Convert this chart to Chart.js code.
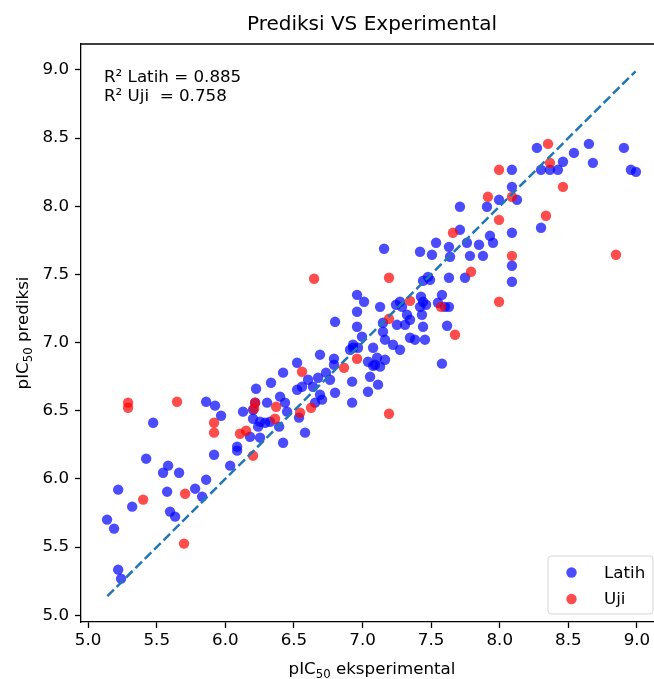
<!DOCTYPE html>
<html><head><meta charset="utf-8">
<script src="https://cdn.jsdelivr.net/npm/chart.js@4.4.1/dist/chart.umd.min.js"></script>
<style>html,body{margin:0;padding:0;background:#fff;overflow:hidden;}#wrap{width:700px;height:679px;}</style>
</head><body><div id="wrap"><canvas id="c" width="700" height="679"></canvas></div>
<script>
const latihX = [5.474,5.423,5.583,5.546,5.663,5.219,5.321,5.576,5.780,5.831,
5.597,5.634,5.138,5.189,5.219,5.240,5.918,5.860,5.860,5.925,
5.969,6.035,6.086,6.086,6.180,6.253,6.239,6.202,6.253,6.290,
6.326,6.129,6.202,6.217,6.304,6.224,6.333,6.421,6.523,6.690,
6.399,6.435,6.450,6.392,6.421,6.537,6.581,6.654,6.559,6.523,
6.603,6.639,6.676,6.734,6.763,6.690,6.705,6.792,6.792,6.800,
6.924,6.924,6.931,6.967,6.909,6.931,6.996,6.960,6.800,6.960,
7.011,6.960,7.128,7.040,7.077,7.106,7.077,7.055,7.113,7.040,
7.091,7.128,7.164,7.149,7.251,7.149,7.164,7.222,7.273,7.346,
7.382,7.455,7.324,7.346,7.310,7.273,7.288,7.244,7.426,7.463,
7.433,7.441,7.616,7.579,7.579,7.550,7.601,7.630,7.441,7.419,
7.477,7.441,7.492,7.630,7.747,7.506,7.638,7.783,7.878,7.419,
7.536,7.630,7.761,7.849,7.929,7.951,7.710,7.710,7.907,7.995,
8.126,8.089,8.089,8.089,8.089,8.089,8.271,8.301,8.301,8.366,
8.424,8.461,8.541,8.650,8.679,8.905,8.956,8.993,7.157];
const latihY = [6.412,6.148,6.097,6.045,6.045,5.921,5.796,5.906,5.928,5.870,
5.760,5.723,5.701,5.635,5.334,5.268,6.177,5.994,6.566,6.537,
6.463,6.097,6.236,6.207,6.309,6.302,6.383,6.441,6.419,6.412,
6.419,6.493,6.507,6.559,6.559,6.661,6.705,6.779,6.852,6.911,
6.603,6.559,6.493,6.383,6.265,6.449,6.339,6.559,6.676,6.654,
6.727,6.676,6.742,6.779,6.727,6.617,6.581,6.881,6.837,6.632,
6.713,6.559,6.962,6.962,6.947,6.984,7.043,7.116,7.152,7.226,
7.299,7.350,7.262,6.859,6.830,6.889,6.962,6.749,6.691,6.639,
6.837,6.823,6.874,7.145,7.130,7.079,7.021,6.984,6.947,7.035,
7.021,7.021,7.204,7.167,7.130,7.299,7.262,7.277,7.336,7.277,
7.204,7.116,7.123,6.845,7.350,7.292,7.262,7.262,7.299,7.262,
7.482,7.453,7.460,7.475,7.475,7.644,7.629,7.636,7.636,7.666,
7.732,7.702,7.732,7.717,7.783,7.732,7.827,7.996,7.996,8.047,
8.047,8.267,8.142,7.805,7.563,7.446,8.428,8.267,7.842,8.267,
8.267,8.326,8.391,8.457,8.318,8.428,8.267,8.252,7.688];
const ujiX = [5.291,5.291,5.648,5.401,5.707,5.699,5.918,5.918,6.107,6.151,
6.202,6.217,6.210,6.370,6.362,6.545,6.625,6.559,6.647,6.865,
6.960,7.193,7.193,7.193,7.346,7.572,7.674,7.791,7.659,7.914,
7.995,7.995,7.995,8.089,8.089,8.337,8.352,8.366,8.461,8.847];
const ujiY = [6.559,6.522,6.566,5.848,5.891,5.525,6.412,6.339,6.331,6.353,
6.170,6.559,6.515,6.529,6.441,6.485,6.522,6.786,7.468,6.815,
6.881,6.478,7.174,7.475,7.306,7.262,7.057,7.519,7.805,8.069,
8.267,7.900,7.299,8.069,7.636,7.930,8.457,8.318,8.142,7.644];
const refLine = [5.14, 8.99];
const xTicks = [5.0,5.5,6.0,6.5,7.0,7.5,8.0,8.5,9.0];
const yTicks = [5.0,5.5,6.0,6.5,7.0,7.5,8.0,8.5,9.0];
const seriesNames = ['Latih','Uji'];
const r2Lines = ['R\u00B2 Latih = 0.885','R\u00B2 Uji  = 0.758'];
const titleText = 'Prediksi VS Experimental';
const xTitleParts = ['pIC', '50', ' eksperimental'];
const yTitleParts = ['pIC', '50', ' prediksi'];

const FONT = 'DejaVu Sans';
const FS = 16.7;
const SUB = 11.7;
const BLUE = 'rgba(0,0,255,0.7)';
const RED = 'rgba(255,0,0,0.7)';

const toPts = (xs, ys) => xs.map((x, i) => ({x: x, y: ys[i]}));

function drawMixed(ctx, parts, cx, cy) {
  const specs = parts.map((t, i) => ({t: t, size: i === 1 ? SUB : FS, dy: i === 1 ? 4 : 0}));
  let total = 0;
  specs.forEach(p => { ctx.font = p.size + 'px "' + FONT + '"'; p.w = ctx.measureText(p.t).width; total += p.w; });
  let x = cx - total / 2;
  ctx.textAlign = 'left';
  ctx.textBaseline = 'alphabetic';
  specs.forEach(p => { ctx.font = p.size + 'px "' + FONT + '"'; ctx.fillText(p.t, x, cy + p.dy); x += p.w; });
}

const framePlugin = {
  id: 'frame',
  afterDraw(chart) {
    const {ctx, chartArea: a} = chart;
    ctx.save();
    ctx.strokeStyle = '#000';
    ctx.lineWidth = 1.3;
    ctx.beginPath();
    ctx.moveTo(a.left, a.top); ctx.lineTo(a.right, a.top); ctx.lineTo(a.right, a.bottom);
    ctx.stroke();
    ctx.fillStyle = '#000';
    // axis titles
    drawMixed(ctx, xTitleParts, (a.left + a.right) / 2, a.bottom + 52);
    ctx.save();
    ctx.translate(28, (a.top + a.bottom) / 2);
    ctx.rotate(-Math.PI / 2);
    drawMixed(ctx, yTitleParts, 0, 0);
    ctx.restore();
    // annotation
    ctx.font = FS + 'px "' + FONT + '"';
    ctx.textBaseline = 'alphabetic';
    ctx.textAlign = 'left';
    ctx.fillText(r2Lines[0], a.left + 23, a.top + 38);
    ctx.fillText(r2Lines[1], a.left + 23, a.top + 57);
    // legend
    const w = 105, h = 58;
    const lx = a.right - 10 - w, ly = a.bottom - 8 - h;
    ctx.beginPath();
    if (ctx.roundRect) ctx.roundRect(lx, ly, w, h, 3); else ctx.rect(lx, ly, w, h);
    ctx.fillStyle = 'rgba(255,255,255,0.8)';
    ctx.fill();
    ctx.strokeStyle = 'rgba(204,204,204,0.8)';
    ctx.lineWidth = 1;
    ctx.stroke();
    const cols = [BLUE, RED];
    const rowsY = [ly + 16.5, ly + 43];
    for (let i = 0; i < 2; i++) {
      ctx.beginPath();
      ctx.arc(lx + 23.5, rowsY[i], 5.2, 0, Math.PI * 2);
      ctx.fillStyle = cols[i];
      ctx.fill();
      ctx.fillStyle = '#000';
      ctx.textBaseline = 'middle';
      ctx.fillText(seriesNames[i], lx + 56, rowsY[i] + 1);
    }
    ctx.restore();
  }
};

const axisCommon = (ticks, isX) => ({
  type: 'linear',
  afterBuildTicks: s => { s.ticks = ticks.map(v => ({value: v})); },
  ticks: {
    callback: v => Number(v).toFixed(1),
    font: {family: FONT, size: FS},
    color: '#000',
    padding: isX ? 3 : 6,
    autoSkip: false,
    maxRotation: 0,
    includeBounds: false
  },
  grid: {display: true, drawOnChartArea: false, drawTicks: true, tickLength: 6, tickWidth: 1.3, tickColor: '#000'},
  border: {display: true, color: '#000', width: 1.3},
  title: {display: false}
});

const xScale = Object.assign(axisCommon(xTicks, true), {
  min: 4.948, max: 9.19, position: 'bottom',
  afterFit: s => { s.height = 57; }
});
const yScale = Object.assign(axisCommon(yTicks, false), {
  min: 4.95, max: 9.19, position: 'left',
  afterFit: s => { s.width = 81; }
});

new Chart(document.getElementById('c'), {
  type: 'scatter',
  data: {
    datasets: [
      {label: 'ref', type: 'line', data: toPts(refLine, refLine), borderColor: '#1f77b4', borderWidth: 2.5,
       borderDash: [9.2, 4], pointRadius: 0, fill: false, order: 0},
      {label: seriesNames[1], data: toPts(ujiX, ujiY), backgroundColor: RED, borderWidth: 0, pointRadius: 5.2, order: 1},
      {label: seriesNames[0], data: toPts(latihX, latihY), backgroundColor: BLUE, borderWidth: 0, pointRadius: 5.2, order: 2}
    ]
  },
  options: {
    responsive: false,
    animation: false,
    devicePixelRatio: 1,
    layout: {padding: {left: 0, right: 37, top: 0, bottom: 0}},
    plugins: {
      legend: {display: false},
      tooltip: {enabled: false},
      title: {display: true, text: titleText, color: '#000', fullSize: false,
        font: {family: FONT, size: 20, weight: 'normal'}, padding: {top: 13, bottom: 7}}
    },
    scales: {x: xScale, y: yScale}
  },
  plugins: [framePlugin]
});
</script>
</body></html>
